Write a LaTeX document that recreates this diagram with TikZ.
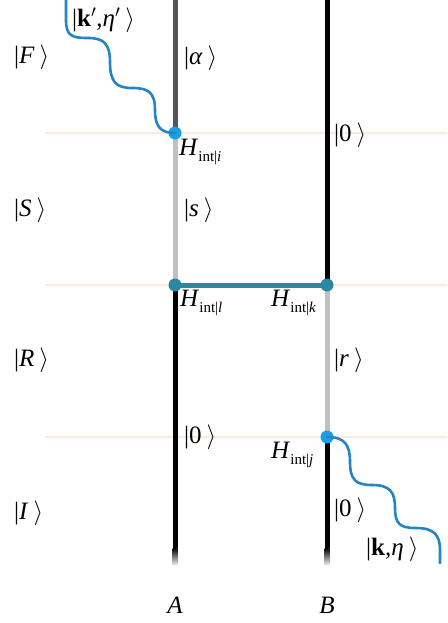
\documentclass[tikz,border=0pt]{standalone}
\usepackage{fontspec}
\setmainfont{Liberation Serif}
\definecolor{photon}{HTML}{2385C6}
\definecolor{dotblue}{HTML}{16A0E6}
\definecolor{tealc}{HTML}{2E87A0}
\definecolor{darkg}{HTML}{555555}
\definecolor{lightg}{HTML}{C0C0C0}
\definecolor{peach}{HTML}{FCEAE0}
\newcommand\ket[1]{|#1\kern5pt$\rangle$}
\newcommand\Hint[1]{\textit{H}\raisebox{-0.55ex}{\fontsize{15}{15}\selectfont int|\textit{#1}}}
\tikzset{
  lbl/.style={font=\fontsize{25}{28}\selectfont, inner sep=0pt},
  dotb/.style={circle, fill=dotblue, minimum size=13pt, inner sep=0pt},
  dott/.style={circle, fill=tealc, minimum size=13pt, inner sep=0pt},
  wline/.style={line width=5pt},
  level/.style={peach, line width=1.3pt},
  photonline/.style={photon, line width=2.6pt, line cap=round}
}
\begin{document}
\begin{tikzpicture}[x=1pt,y=-1pt]
\useasboundingbox (0,0) rectangle (447,623);
% level lines
\draw[level] (45,133) -- (447,133);
\draw[level] (45,285) -- (447,285);
\draw[level] (45,437) -- (447,437);
% coordinates
\coordinate (At) at (175,0);
\coordinate (Ab) at (175,548);
\coordinate (Bt) at (327,0);
\coordinate (Bb) at (327,548);
% line A
\draw[wline, darkg] (At) -- (175,133);
\draw[wline, lightg] (175,133) -- (175,285);
\draw[wline, black] (175,285) -- (Ab);
\shade[top color=black, bottom color=white, draw=none] (172.5,548) rectangle (177.5,566);
% line B
\draw[wline, black] (Bt) -- (327,285);
\draw[wline, lightg] (327,285) -- (327,437);
\draw[wline, black] (327,437) -- (Bb);
\shade[top color=black, bottom color=white, draw=none] (324.5,548) rectangle (329.5,566);
% exchange
\draw[wline, tealc] (175,285) -- (327,285);
% dots
\node[dotb] (i) at (175,133) {};
\node[dott] (l) at (175,285) {};
\node[dott] (k) at (327,285) {};
\node[dotb] (j) at (327,437) {};
% photons
\coordinate (pt) at (66,0);
\draw[photonline] (pt) -- (66,20)
  .. controls (66,36) and (72,38) .. (88,38)
  .. controls (104,38) and (110,44) .. (110,62)
  .. controls (110,82) and (116,88) .. (132,88)
  .. controls (148,88) and (155,92) .. (155,110)
  .. controls (155,126) and (160,133) .. (i.center);
\coordinate (pb) at (440,563);
\draw[photonline] (j.center) .. controls (345,437) and (350,445) .. (350,462)
  .. controls (350,480) and (356,485) .. (372,485)
  .. controls (390,485) and (395,492) .. (395,508)
  .. controls (395,524) and (400,528) .. (416,528)
  .. controls (434,528) and (440,535) .. (440,550) -- (pb);
% labels
\node[lbl, anchor=west] (kp) at (72,20) {\ket{\textbf{k}$^{\prime}$,\textit{η}$^{\prime}$}};
\node[lbl, anchor=west] (F) at (14,57) {\ket{\textit{F}}};
\node[lbl, anchor=west] (al) at (184,58) {\ket{\textit{α}}};
\node[lbl, anchor=west] (z1) at (334,135) {\ket{0}};
\node[lbl, anchor=west] (hi) at (179,152) {\Hint{i}};
\node[lbl, anchor=west] (S) at (14,210) {\ket{\textit{S}}};
\node[lbl, anchor=west] (s) at (184,210) {\ket{\textit{s}}};
\node[lbl, anchor=west] (hl) at (180,303) {\Hint{l}};
\node[lbl, anchor=west] (hk) at (271,303) {\Hint{k}};
\node[lbl, anchor=west] (R) at (14,360) {\ket{\textit{R}}};
\node[lbl, anchor=west] (r) at (334,360) {\ket{\textit{r}}};
\node[lbl, anchor=west] (z2) at (184,437) {\ket{0}};
\node[lbl, anchor=west] (hj) at (271,455) {\Hint{j}};
\node[lbl, anchor=west] (I) at (14,513) {\ket{\textit{I}}};
\node[lbl, anchor=west] (z3) at (334,510) {\ket{0}};
\node[lbl, anchor=west] (ke) at (366,549) {\ket{\textbf{k},\textit{η}}};
\node[lbl] (A) at (175,605) {\textit{A}};
\node[lbl] (B) at (327,605) {\textit{B}};
\end{tikzpicture}
\end{document}
